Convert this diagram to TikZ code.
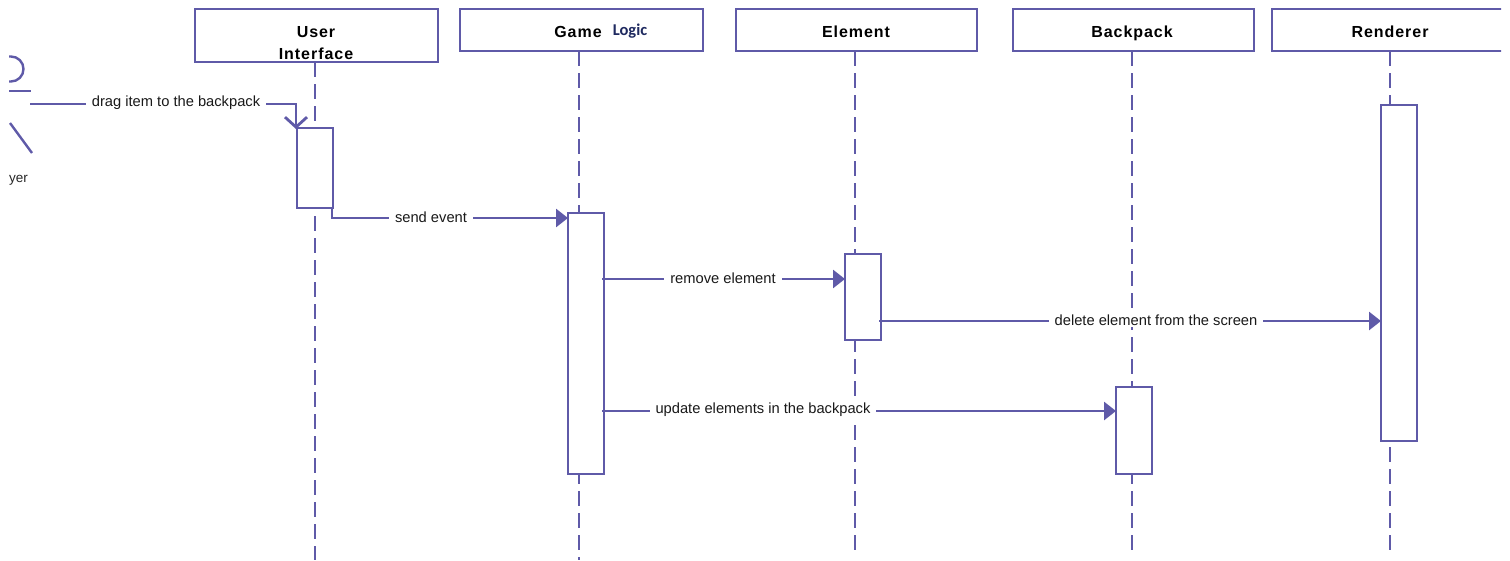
\documentclass[tikz,border=0pt]{standalone}
\usepackage{fontspec}
\setmainfont{Liberation Sans}
\newfontfamily\logicfont{Carlito}
\newfontfamily\headfont[LetterSpace=6]{Liberation Sans}
\usetikzlibrary{arrows.meta}
\definecolor{umlline}{HTML}{5F5AA8}
\definecolor{logicink}{HTML}{1F2A60}
\tikzset{
  x=1pt,y=-1pt,
  ln/.style={draw=umlline,line width=2.8pt},
  headbox/.style={ln,fill=white,rectangle,anchor=north west,inner sep=0pt,outer sep=0pt},
  lifeline/.style={ln,dash pattern=on 15pt off 7pt},
  actbox/.style={ln,fill=white,rectangle,anchor=north west,inner sep=0pt,outer sep=0pt},
  msg/.style={ln,-{Triangle[length=12pt,width=18pt,fill=umlline]}},
  openmsg/.style={ln,-{Straight Barb[length=10pt,width=22pt,line width=2.8pt]}},
  msglabel/.style={fill=white,font=\fontsize{14.7}{16}\selectfont,text=black!90,inner xsep=6pt,inner ysep=2pt},
  headtext/.style={font=\headfont\fontsize{16}{20}\selectfont\bfseries,text=black,inner sep=0pt,anchor=base},
  actorline/.style={ln,line width=2.4pt},
}
\begin{document}
\begin{tikzpicture}
\useasboundingbox (0,0) rectangle (1510,560);
\begin{scope}
\clip (9,0) rectangle (1501,560);
% heads
\node[headbox,minimum width=243pt,minimum height=53pt] (ui) at (195,9) {};
\node[headbox,minimum width=243pt,minimum height=42pt] (game) at (460,9) {};
\node[headbox,minimum width=241pt,minimum height=42pt] (element) at (736,9) {};
\node[headbox,minimum width=241pt,minimum height=42pt] (backpack) at (1013,9) {};
\node[headbox,minimum width=260pt,minimum height=42pt] (renderer) at (1272,9) {};
% lifeline ends
\coordinate (uiS) at (315,62);   \coordinate (uiE) at (315,560);
\coordinate (gameS) at (579,51); \coordinate (gameE) at (579,560);
\coordinate (elS) at (855,51);   \coordinate (elE) at (855,551);
\coordinate (bpS) at (1132,51);  \coordinate (bpE) at (1132,551);
\coordinate (reS) at (1390,51);  \coordinate (reE) at (1390,551);
\draw[lifeline] (uiS) -- (uiE);
\draw[lifeline] (gameS) -- (gameE);
\draw[lifeline] (elS) -- (elE);
\draw[lifeline] (bpS) -- (bpE);
\draw[lifeline] (reS) -- (reE);
% activations
\node[actbox,minimum width=36pt,minimum height=80pt] (uiact) at (297,128) {};
\node[actbox,minimum width=36pt,minimum height=261pt] (gameact) at (568,213) {};
\node[actbox,minimum width=36pt,minimum height=86pt] (elact) at (845,254) {};
\node[actbox,minimum width=36pt,minimum height=87pt] (bpact) at (1116,387) {};
\node[actbox,minimum width=36pt,minimum height=336pt] (react) at (1381,105) {};
% head text
\node[headtext] (t1) at (316,37) {User};
\node[headtext] (t2) at (316,59) {Interface};
\node[headtext] (t3) at (578,37) {Game};
\node[font=\logicfont\fontsize{16.5}{18}\selectfont\bfseries,text=logicink,inner sep=0pt,anchor=base] (t4) at (630,35) {Logic};
\node[headtext] (t5) at (856,37) {Element};
\node[headtext] (t6) at (1132,37) {Backpack};
\node[headtext] (t7) at (1390,37) {Renderer};
% actor
\coordinate (actorHeadA) at (8,56.5);
\draw[actorline] (actorHeadA) -- (11,56.5) arc[start angle=-90,end angle=90,radius=12.5] -- (8,81.5);
\coordinate (armA) at (9,91); \coordinate (armB) at (31,91);
\draw[actorline] (armA) -- (armB);
\coordinate (legA) at (10,123); \coordinate (legB) at (32,153);
\draw[actorline] (legA) -- (legB);
\node[font=\fontsize{13.5}{16}\selectfont,text=black!85,inner sep=0pt,anchor=base west] (yer) at (9,182) {yer};
% messages
\coordinate (m1s) at (30,104);
\coordinate (m1e) at (296,129);
\draw[openmsg] (m1s) -- (296,104) -- (m1e);
\node[msglabel] (l1) at (176,103) {drag item to the backpack};
\coordinate (m2s) at (332,207);
\coordinate (m2e) at (568,218);
\draw[msg] (m2s) |- (m2e);
\node[msglabel] (l2) at (431,217) {send event};
\coordinate (m3s) at (602,279);
\coordinate (m3e) at (845,279);
\draw[msg] (m3s) -- (m3e);
\node[msglabel] (l3) at (723,278) {remove element};
\coordinate (m4s) at (879,321);
\coordinate (m4e) at (1381,321);
\draw[msg] (m4s) -- (m4e);
\node[msglabel] (l4) at (1156,320) {delete element from the screen};
\coordinate (m5s) at (602,411);
\coordinate (m5e) at (1116,411);
\draw[msg] (m5s) -- (m5e);
\node[msglabel] (l5) at (763,410) {update elements in the backpack};
\end{scope}
\end{tikzpicture}
\end{document}
